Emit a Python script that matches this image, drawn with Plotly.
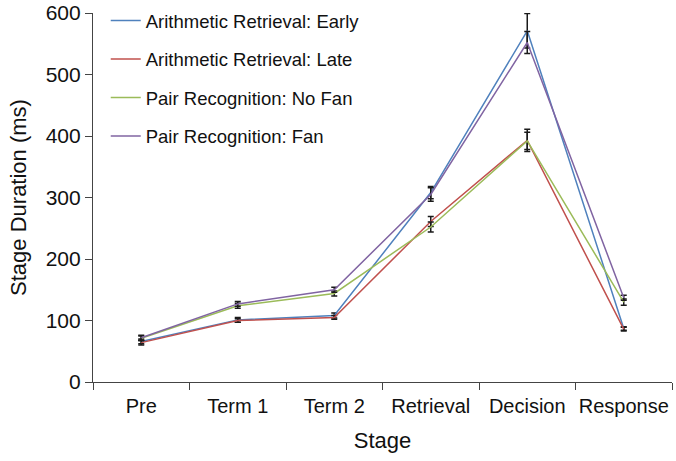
import plotly.graph_objects as go

stages = ["Pre", "Term 1", "Term 2", "Retrieval", "Decision", "Response"]

arith_early = [66, 101, 108, 308, 571, 87]
arith_late = [64, 100, 105, 261, 393, 86]
pair_nofan = [71, 124, 144, 252, 392, 130]
pair_fan = [72, 127, 150, 305, 552, 137]

err_early = [4, 4, 4, 10, 28, 3]
err_late = [4, 3, 3, 8, 18, 3]
err_nofan = [4, 4, 4, 8, 14, 5]
err_fan = [4, 4, 4, 11, 18, 4]

names = [
    "Arithmetic Retrieval: Early",
    "Arithmetic Retrieval: Late",
    "Pair Recognition: No Fan",
    "Pair Recognition: Fan",
]
colors = ["#4F81BD", "#C0504D", "#9BBB59", "#8064A2"]

FONT = "Liberation Sans, Arial, sans-serif"

fig = go.Figure()
series = [(arith_early, err_early), (arith_late, err_late), (pair_nofan, err_nofan), (pair_fan, err_fan)]
for i, (vals, errs) in enumerate(series):
    fig.add_trace(go.Scatter(
        x=stages, y=vals, name=names[i], mode="lines",
        line=dict(color=colors[i], width=1.5),
        legendgroup=f"g{i}",
        error_y=dict(type="data", array=errs, color="#1a1a1a", thickness=1.5, width=3),
    ))

fig.update_layout(
    width=676, height=461,
    margin=dict(l=93, r=4, t=13, b=79, autoexpand=False),
    paper_bgcolor="white", plot_bgcolor="white",
    font=dict(family=FONT, size=20, color="#111"),
    showlegend=True,
    legend=dict(
        x=0.022, y=1.03, xanchor="left", yanchor="top",
        font=dict(family=FONT, size=18.5, color="#111"),
        traceorder="grouped", tracegroupgap=11.5,
        bgcolor="rgba(0,0,0,0)",
    ),
    xaxis=dict(
        title=dict(text="Stage", standoff=16, font=dict(size=22)),
        range=[-0.5, 5.5], tickangle=0, automargin=False,
        tickfont=dict(size=20), ticklabelstandoff=6,
        showline=True, linecolor="#444", linewidth=1.2,
        ticks="outside", tickson="boundaries", ticklen=7, tickcolor="#444",
        showgrid=False, zeroline=False,
    ),
    yaxis=dict(
        title=dict(text="Stage Duration (ms)", standoff=12, font=dict(size=22)),
        range=[0, 600], dtick=100, automargin=False,
        tickfont=dict(size=21),
        showline=True, linecolor="#444", linewidth=1.2,
        ticks="outside", ticklen=7, tickcolor="#444",
        showgrid=False, zeroline=False,
    ),
)

# page body has a default 8px margin; drop it so the figure sits at the corner
fig.write_html("out.html", config={"displayModeBar": False},
               post_script="document.body.style.margin='0';")
